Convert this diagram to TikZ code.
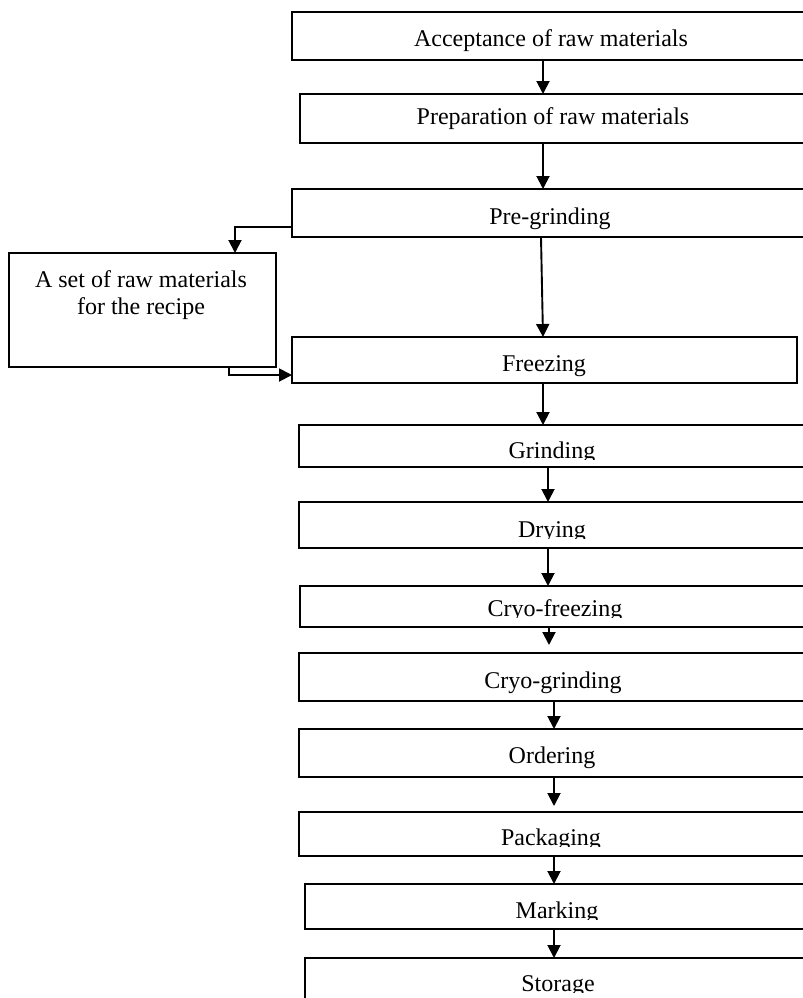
\documentclass[tikz,border=0pt]{standalone}
\usepackage{fontspec}
\setmainfont{Liberation Serif}
\usetikzlibrary{arrows.meta,calc}
\begin{document}
\begin{tikzpicture}[x=0.5pt,y=-0.5pt,
  box/.style={draw, line width=0.95pt, inner sep=0pt, outer sep=0pt, anchor=north west},
  lbl/.style={font=\fontsize{12}{13.5}\selectfont, inner sep=0pt, anchor=base},
  arr/.style={line width=0.95pt, -{Triangle[length=6.5pt,width=6.5pt]}}]
\useasboundingbox (0,0) rectangle (803,998);
\clip (0,0) rectangle (803,998);
% boxes
\node[box, minimum width=260pt,   minimum height=24pt]   (acc)   at (292,12)  {};
\node[box, minimum width=256pt,   minimum height=24.5pt] (prep)  at (300,94)  {};
\node[box, minimum width=260pt,   minimum height=24pt]   (pregr) at (292,189) {};
\node[box, minimum width=133.5pt, minimum height=57pt]   (set)   at (9,253)   {};
\node[box, minimum width=252.5pt, minimum height=23pt]   (frz)   at (292,337) {};
\node[box, minimum width=256.5pt, minimum height=21pt]   (grnd)  at (299,425) {};
\node[box, minimum width=256.5pt, minimum height=23pt]   (dry)   at (299,502) {};
\node[box, minimum width=256pt,   minimum height=20.5pt] (cfrz)  at (300,586) {};
\node[box, minimum width=256.5pt, minimum height=24pt]   (cgr)   at (299,653) {};
\node[box, minimum width=256.5pt, minimum height=24pt]   (ord)   at (299,729) {};
\node[box, minimum width=256.5pt, minimum height=22pt]   (pack)  at (299,812) {};
\node[box, minimum width=253.5pt, minimum height=22.5pt] (mark)  at (305,884) {};
\node[box, minimum width=253.5pt, minimum height=30pt]   (stor)  at (305,958) {};
% labels
\node[lbl] (tacc)  at (551,46)  {Acceptance of raw materials};
\node[lbl] (tprep) at (553,124) {Preparation of raw materials};
\node[lbl] (tpre)  at (550,224) {Pre-grinding};
\node[lbl] (tset1) at (141,287) {A set of raw materials};
\node[lbl] (tset2) at (141,314) {for the recipe};
\node[lbl] (tfrz)  at (544,371) {Freezing};
\begin{scope}\clip (grnd.north west) rectangle (grnd.east |- 0,459);
\node[lbl] (tgrnd) at (552,458) {Grinding};\end{scope}
\begin{scope}\clip (dry.north west) rectangle (dry.east |- 0,538);
\node[lbl] (tdry) at (552,537) {Drying};\end{scope}
\begin{scope}\clip (cfrz.north west) rectangle (cfrz.east |- 0,617);
\node[lbl] (tcfrz) at (555,616) {Cryo-freezing};\end{scope}
\node[lbl] (tcgr)  at (553,688) {Cryo-grinding};
\node[lbl] (tord)  at (552,763) {Ordering};
\begin{scope}\clip (pack.north west) rectangle (pack.east |- 0,846);
\node[lbl] (tpack) at (551,845) {Packaging};\end{scope}
\begin{scope}\clip (mark.north west) rectangle (mark.east |- 0,919);
\node[lbl] (tmark) at (557,918) {Marking};\end{scope}
\begin{scope}\clip (stor.north west) rectangle (stor.east |- 0,992);
\node[lbl] (tstor) at (558,991) {Storage};\end{scope}
% connectors
\draw[arr] (acc.south -| 543,0) -- (prep.north -| 543,0);
\draw[arr] (prep.south -| 543,0) -- (pregr.north -| 543,0);
\draw[arr] (pregr.south -| 541,0) -- (frz.north -| 543,0);
\draw[arr] (pregr.west |- 0,227) -| (set.north -| 235,0);
\draw[arr] (set.south -| 229,0) |- (frz.west |- 0,375);
\draw[arr] (frz.south -| 543,0) -- (grnd.north -| 543,0);
\draw[arr] (grnd.south -| 548,0) -- (dry.north -| 548,0);
\draw[arr] (dry.south -| 548,0) -- (cfrz.north -| 548,0);
\draw[arr] (cfrz.south -| 549,0) -- ($(cgr.north -| 549,0)+(0,-8)$);
\draw[arr] (cgr.south -| 554,0) -- (ord.north -| 554,0);
\draw[arr] (ord.south -| 554,0) -- ($(pack.north -| 554,0)+(0,-6)$);
\draw[arr] (pack.south -| 554,0) -- (mark.north -| 554,0);
\draw[arr] (mark.south -| 554,0) -- (stor.north -| 554,0);
\end{tikzpicture}
\end{document}
